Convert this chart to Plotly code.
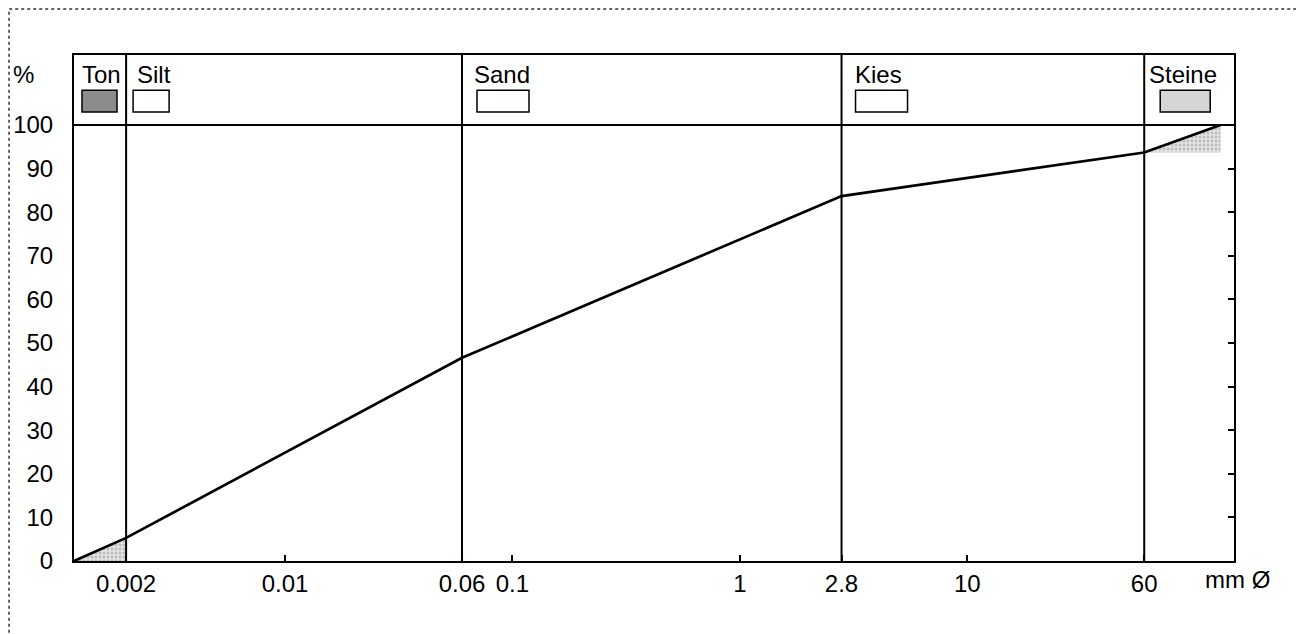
import numpy as np
import plotly.graph_objects as go

# ---- data ----
grain_mm = [0.00118, 0.002, 0.06, 2.8, 60, 130]
passing_pct = [0, 5.3, 46.6, 83.7, 93.7, 100]

class_names = ["Ton", "Silt", "Sand", "Kies", "Steine"]
class_lower = [0.00118, 0.002, 0.06, 2.8, 60]
boundaries = [0.002, 0.06, 2.8, 60]

x_ticks = [0.002, 0.01, 0.06, 0.1, 1, 2.8, 10, 60]
x_tick_text = ["0.002", "0.01", "0.06", "0.1", "1", "2.8", "10", "60"]
y_ticks = list(range(0, 101, 10))
y_minor_ticks = list(range(10, 100, 10))

# ---- styling ----
FONT = "Liberation Sans, Arial, sans-serif"
FS = 24
Y_TOP = 116.06
X_MIN_LOG = np.log10(grain_mm[0])
X_MAX_LOG = 2.173

fig = go.Figure()

pattern = dict(shape=".", fgcolor="#8f8f8f", bgcolor="#e4e4e4", size=4, solidity=0.4)

# shaded triangles (Ton and Steine zones)
fig.add_trace(go.Scatter(
    x=[grain_mm[0], grain_mm[1], grain_mm[1], grain_mm[0]],
    y=[passing_pct[0], passing_pct[1], passing_pct[0], passing_pct[0]],
    fill="toself", mode="none", hoverinfo="skip",
    fillcolor="#e2e2e2", fillpattern=pattern, showlegend=False))
fig.add_trace(go.Scatter(
    x=[grain_mm[4], grain_mm[5], grain_mm[5], grain_mm[4]],
    y=[passing_pct[4], passing_pct[5], passing_pct[4], passing_pct[4]],
    fill="toself", mode="none", hoverinfo="skip",
    fillcolor="#e2e2e2", fillpattern=pattern, showlegend=False))

# grading curve
fig.add_trace(go.Scatter(x=grain_mm, y=passing_pct, mode="lines",
                         line=dict(color="black", width=2.7),
                         showlegend=False, hoverinfo="x+y"))

# invisible trace on right axis so its ticks are drawn
fig.add_trace(go.Scatter(x=[grain_mm[0]], y=[0], yaxis="y2", mode="markers",
                         marker=dict(opacity=0), showlegend=False, hoverinfo="skip"))

shapes = []
# 100 % line
shapes.append(dict(type="line", xref="paper", x0=0, x1=1, yref="y", y0=100, y1=100,
                   line=dict(color="black", width=2)))
# class boundaries
for b in boundaries:
    shapes.append(dict(type="line", xref="x", x0=b, x1=b, yref="y", y0=0, y1=Y_TOP,
                       line=dict(color="black", width=2)))

# legend boxes in header: (pixel offset from class lower bound, width, fill)
box_off = [8, 7, 15, 14, 16]
box_w = [35, 36, 52, 52, 50]
box_fill = ["#8c8c8c", "white", "white", "white", "#d6d6d6"]
label_off = [6, 9, 10, 11, 3]
for i, name in enumerate(class_names):
    shapes.append(dict(type="rect", xref="x", xsizemode="pixel", xanchor=class_lower[i],
                       x0=box_off[i], x1=box_off[i] + box_w[i],
                       yref="y", y0=103.0, y1=108.0,
                       fillcolor=box_fill[i], line=dict(color="black", width=1.5)))

# outer dotted frame
shapes.append(dict(type="rect", xref="paper", yref="paper",
                   x0=-0.056, x1=1.0552, y0=-0.2, y1=1.0909,
                   line=dict(color="#333333", width=1.5, dash="dot")))

annotations = []
for i, name in enumerate(class_names):
    annotations.append(dict(text=name, xref="x", x=np.log10(class_lower[i]), xanchor="left",
                            xshift=label_off[i], yref="y", y=111.6, yanchor="middle",
                            showarrow=False, font=dict(family=FONT, size=FS, color="black")))
annotations.append(dict(text="%", xref="paper", x=-0.033, xanchor="right", yref="y", y=111.6,
                        yanchor="middle", showarrow=False,
                        font=dict(family=FONT, size=FS, color="black")))
annotations.append(dict(text="mm Ø", xref="paper", x=1.0026, xanchor="center", yref="paper",
                        y=-0.036, yanchor="middle", showarrow=False,
                        font=dict(family=FONT, size=FS, color="black")))

fig.update_layout(
    width=1296, height=626, autosize=False,
    margin=dict(l=66, r=70, t=47, b=73),
    paper_bgcolor="white", plot_bgcolor="white",
    font=dict(family=FONT, size=FS, color="black"),
    showlegend=False,
    xaxis=dict(type="log", range=[X_MIN_LOG, X_MAX_LOG], automargin=False,
               tickmode="array", tickvals=x_ticks, ticktext=x_tick_text,
               ticks="inside", ticklen=6, tickwidth=2, tickcolor="black",
               showline=True, linecolor="black", linewidth=2, mirror=True,
               showgrid=False, zeroline=False, ticklabelstandoff=0),
    yaxis=dict(range=[0, Y_TOP], tickmode="array", tickvals=y_ticks, automargin=False,
               ticks="", showline=True, linecolor="black", linewidth=2, mirror=True,
               showgrid=False, zeroline=False, ticklabelstandoff=14),
    yaxis2=dict(range=[0, Y_TOP], overlaying="y", side="right", automargin=False,
                tickmode="array", tickvals=y_minor_ticks,
                ticks="inside", ticklen=6, tickwidth=2, tickcolor="black",
                showticklabels=False, showline=False, showgrid=False, zeroline=False),
    shapes=shapes, annotations=annotations,
)

fig.write_html("out.html")
